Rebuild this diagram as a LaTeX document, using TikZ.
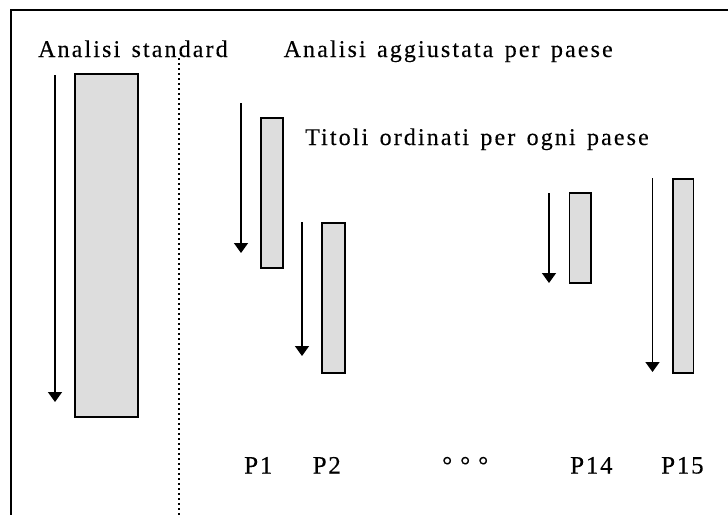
\documentclass[tikz,border=0pt]{standalone}
\usepackage{fontspec}
\setmainfont{Liberation Serif}
\newfontfamily\spaced[LetterSpace=8.8,WordSpace=1.4,FakeBold=0.25]{Liberation Serif}
\newfontfamily\spacedlab[LetterSpace=7,FakeBold=0.25]{Liberation Serif}
\usetikzlibrary{arrows.meta}
\definecolor{boxgray}{HTML}{DDDDDD}
\tikzset{
  bar/.style={draw=black, fill=boxgray, line width=1.4pt},
  sortarrow/.style={line width=1.5pt, -{Triangle[width=14pt,length=10pt]}},
  frameline/.style={line width=2pt},
  divider/.style={line width=2pt, dash pattern=on 2.2pt off 2.8pt},
  title/.style={anchor=base west, inner sep=0pt, font=\spaced\fontsize{24}{28}\selectfont},
  plabel/.style={anchor=base west, inner sep=0pt, font=\spacedlab\fontsize{25}{29}\selectfont}
}
\begin{document}
\begin{tikzpicture}[x=1pt,y=-1pt]
\useasboundingbox (0,0) rectangle (728,515);
% frame
\coordinate (fTL) at (11,10);
\coordinate (fTR) at (728,10);
\coordinate (fBL) at (11,515);
\draw[frameline] (fTR) -- (fTL) -- (fBL);
% divider
\coordinate (dTop) at (179,58);
\coordinate (dBot) at (179,515);
\draw[divider] (dTop) -- (dBot);
% titles
\node[title] (tStd) at (38,57) {Analisi standard};
\node[title] (tAdj) at (283.5,57) {Analisi aggiustata per paese};
\node[title] (tTit) at (305,145) {Titoli ordinati per ogni paese};
% big bar
\draw[bar] (75,74) rectangle (138,417);
\coordinate (a0s) at (55,75); \coordinate (a0e) at (55,402);
\draw[sortarrow] (a0s) -- (a0e);
% P1
\draw[bar] (261,118) rectangle (283,268);
\coordinate (a1s) at (241,103); \coordinate (a1e) at (241,253);
\draw[sortarrow] (a1s) -- (a1e);
% P2
\draw[bar] (322,223) rectangle (345,373);
\coordinate (a2s) at (302,222); \coordinate (a2e) at (302,356);
\draw[sortarrow] (a2s) -- (a2e);
% P14
\draw[bar] (569.5,193) rectangle (591,283);
\coordinate (a3s) at (549,193); \coordinate (a3e) at (549,283);
\draw[sortarrow] (a3s) -- (a3e);
% P15
\draw[bar] (673,179) rectangle (693.5,373);
\coordinate (a4s) at (652.5,178); \coordinate (a4e) at (652.5,372);
\draw[sortarrow] (a4s) -- (a4e);
% labels
\node[plabel] (lP1) at (244,473.5) {P1};
\node[plabel] (lP2) at (312.5,473.5) {P2};
\node[plabel] (lDots) at (442,473.5) {°\hspace{8pt}°\hspace{8pt}°};
\node[plabel] (lP14) at (570,473.5) {P14};
\node[plabel] (lP15) at (661,473.5) {P15};
\end{tikzpicture}
\end{document}
